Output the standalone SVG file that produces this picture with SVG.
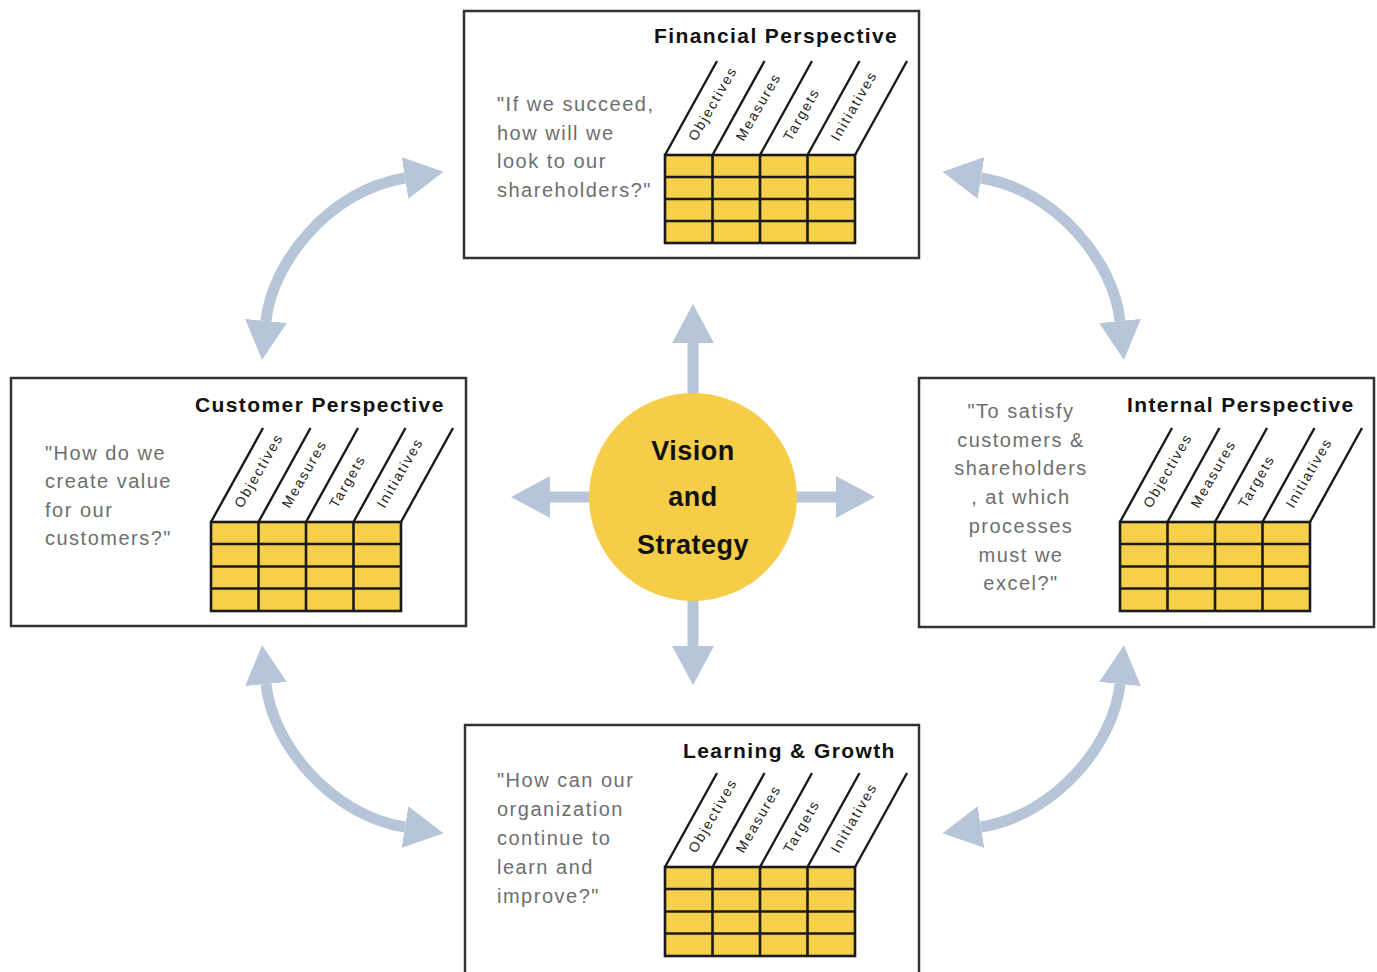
<svg xmlns="http://www.w3.org/2000/svg" width="1377" height="972" viewBox="0 0 1377 972">
<style>
.box{fill:#ffffff;stroke:#333333;stroke-width:2.5}
.tbl{fill:#F6CF4B;stroke:#1a1a1a;stroke-width:2.6}
.ln{stroke:#1a1a1a;stroke-width:2.6;fill:none}
.sl{stroke:#1a1a1a;stroke-width:2.4;fill:none}
.title{font-family:"Liberation Sans",Arial,sans-serif;font-weight:bold;font-size:21px;letter-spacing:1.4px;fill:#111111}
.q{font-family:"Liberation Sans",Arial,sans-serif;font-size:20px;letter-spacing:1.5px;fill:#6e6e6e}
.col{font-family:"Liberation Sans",Arial,sans-serif;font-size:14px;letter-spacing:1.8px;fill:#222222}
.vis{font-family:"Liberation Sans",Arial,sans-serif;font-weight:bold;font-size:27px;letter-spacing:0.5px;fill:#111111;text-anchor:middle}
.arr{stroke:#B6C5D8;stroke-width:11;fill:none;marker-start:url(#head);marker-end:url(#head)}
.arr1{stroke:#B6C5D8;stroke-width:11;fill:none;marker-end:url(#head)}
</style>
<defs>
<marker id="head" markerUnits="userSpaceOnUse" markerWidth="40" markerHeight="42" refX="0" refY="21" orient="auto-start-reverse" viewBox="0 0 40 42">
<path d="M0,0 L39,21 L0,42 Z" fill="#B6C5D8"/>
</marker>
</defs>

<g id="connectors">
<path class="arr" d="M266,321 C272,262 330,190 405,178"/>
<path class="arr" d="M1120,321 C1114,262 1056,190 981,178"/>
<path class="arr" d="M266,684 C272,743 330,815 405,827"/>
<path class="arr" d="M1120,684 C1114,743 1056,815 981,827"/>
<path class="arr1" d="M693,400 L693,343"/>
<path class="arr1" d="M693,595 L693,646"/>
<path class="arr1" d="M595,497 L550,497"/>
<path class="arr1" d="M790,497 L836,497"/>
</g>

<g id="vision">
<circle cx="693" cy="497" r="104" fill="#F5CD46"/>
<text class="vis" x="693" y="460">Vision</text>
<text class="vis" x="693" y="506">and</text>
<text class="vis" x="693" y="554">Strategy</text>
</g>

<g id="financial">
<rect class="box" x="464" y="11" width="455" height="247"/>
<text class="title" x="654" y="43">Financial Perspective</text>
<text class="q" x="497" y="111">"If we succeed,</text>
<text class="q" x="497" y="140">how will we</text>
<text class="q" x="497" y="168">look to our</text>
<text class="q" x="497" y="197">shareholders?"</text>
<rect class="tbl" x="665" y="155" width="190" height="88"/>
<path class="ln" d="M665,177 H855 M665,199 H855 M665,221 H855 M712.5,155 V243 M760,155 V243 M807.5,155 V243"/>
<path class="sl" d="M665,155 L717,61 M712.5,155 L764.5,61 M760,155 L812,61 M807.5,155 L859.5,61 M855,155 L907,61"/>
<text class="col" transform="translate(696,142) rotate(-60)">Objectives</text>
<text class="col" transform="translate(743.5,142) rotate(-60)">Measures</text>
<text class="col" transform="translate(791,142) rotate(-60)">Targets</text>
<text class="col" transform="translate(838.5,142) rotate(-60)">Initiatives</text>
</g>

<g id="customer">
<rect class="box" x="11" y="378" width="455" height="248"/>
<text class="title" x="195" y="412">Customer Perspective</text>
<text class="q" x="45" y="460">"How do we</text>
<text class="q" x="45" y="488">create value</text>
<text class="q" x="45" y="517">for our</text>
<text class="q" x="45" y="545">customers?"</text>
<rect class="tbl" x="211" y="522" width="190" height="89"/>
<path class="ln" d="M211,544 H401 M211,566.5 H401 M211,588.5 H401 M258.5,522 V611 M306,522 V611 M353.5,522 V611"/>
<path class="sl" d="M211,522 L263,428 M258.5,522 L310.5,428 M306,522 L358,428 M353.5,522 L405.5,428 M401,522 L453,428"/>
<text class="col" transform="translate(242,509) rotate(-60)">Objectives</text>
<text class="col" transform="translate(289.5,509) rotate(-60)">Measures</text>
<text class="col" transform="translate(337,509) rotate(-60)">Targets</text>
<text class="col" transform="translate(384.5,509) rotate(-60)">Initiatives</text>
</g>

<g id="internal">
<rect class="box" x="919" y="378" width="455" height="249"/>
<text class="title" x="1127" y="412">Internal Perspective</text>
<text class="q" x="1021" y="418" text-anchor="middle">"To satisfy</text>
<text class="q" x="1021" y="447" text-anchor="middle">customers &amp;</text>
<text class="q" x="1021" y="475" text-anchor="middle">shareholders</text>
<text class="q" x="1021" y="504" text-anchor="middle">, at which</text>
<text class="q" x="1021" y="533" text-anchor="middle">processes</text>
<text class="q" x="1021" y="562" text-anchor="middle">must we</text>
<text class="q" x="1021" y="590" text-anchor="middle">excel?"</text>
<rect class="tbl" x="1120" y="522" width="190" height="89"/>
<path class="ln" d="M1120,544 H1310 M1120,566.5 H1310 M1120,588.5 H1310 M1167.5,522 V611 M1215,522 V611 M1262.5,522 V611"/>
<path class="sl" d="M1120,522 L1172,428 M1167.5,522 L1219.5,428 M1215,522 L1267,428 M1262.5,522 L1314.5,428 M1310,522 L1362,428"/>
<text class="col" transform="translate(1151,509) rotate(-60)">Objectives</text>
<text class="col" transform="translate(1198.5,509) rotate(-60)">Measures</text>
<text class="col" transform="translate(1246,509) rotate(-60)">Targets</text>
<text class="col" transform="translate(1293.5,509) rotate(-60)">Initiatives</text>
</g>

<g id="learning">
<rect class="box" x="465" y="725" width="454" height="260"/>
<text class="title" x="683" y="758">Learning &amp; Growth</text>
<text class="q" x="497" y="787">"How can our</text>
<text class="q" x="497" y="816">organization</text>
<text class="q" x="497" y="845">continue to</text>
<text class="q" x="497" y="874">learn and</text>
<text class="q" x="497" y="903">improve?"</text>
<rect class="tbl" x="665" y="867" width="190" height="89"/>
<path class="ln" d="M665,889 H855 M665,911.5 H855 M665,933.5 H855 M712.5,867 V956 M760,867 V956 M807.5,867 V956"/>
<path class="sl" d="M665,867 L717,773 M712.5,867 L764.5,773 M760,867 L812,773 M807.5,867 L859.5,773 M855,867 L907,773"/>
<text class="col" transform="translate(696,854) rotate(-60)">Objectives</text>
<text class="col" transform="translate(743.5,854) rotate(-60)">Measures</text>
<text class="col" transform="translate(791,854) rotate(-60)">Targets</text>
<text class="col" transform="translate(838.5,854) rotate(-60)">Initiatives</text>
</g>
</svg>
